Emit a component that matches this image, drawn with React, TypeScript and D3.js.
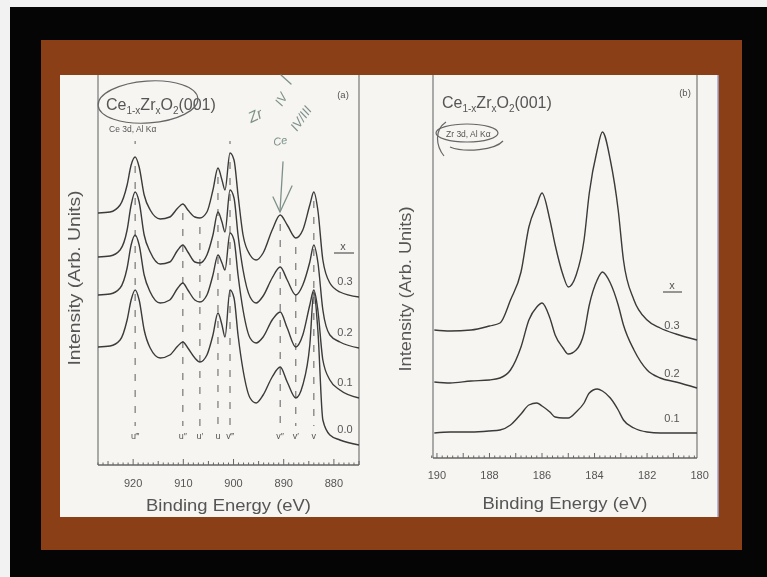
import * as d3 from 'd3';

// Ce 3d panel (a): shared energy grid (eV) and one intensity list per x
const ceEnergy = [927.0, 924.6, 922.6, 921.2, 920.4, 919.6, 918.8, 917.8, 916.6, 914.6, 912.7, 911.1, 910.1, 909.1, 907.7, 906.7, 905.3, 904.1, 903.1, 902.3, 901.7, 900.7, 899.9, 899.1, 898.1, 896.7, 895.5, 894.1, 892.3, 890.7, 889.3, 887.6, 886.2, 884.8, 884.0, 883.2, 882.2, 880.8, 878.8, 875.0];
const ce03 = [252, 253, 260, 280, 300, 308, 298, 270, 255, 246, 248, 257, 261, 255, 248, 247, 253, 275, 297, 285, 275, 312, 305, 270, 230, 210, 205, 212, 235, 250, 240, 227, 235, 260, 273, 255, 205, 182, 173, 168];
const ce02 = [208, 209, 215, 235, 260, 273, 263, 230, 213, 201, 203, 215, 220, 213, 203, 202, 210, 230, 253, 243, 233, 275, 267, 230, 195, 168, 162, 169, 187, 198, 185, 170, 180, 203, 220, 203, 155, 130, 123, 117];
const ce01 = [170, 171, 177, 197, 220, 230, 220, 190, 173, 162, 165, 177, 182, 175, 165, 163, 170, 190, 210, 202, 195, 232, 225, 190, 155, 127, 122, 128, 145, 153, 137, 118, 130, 160, 175, 155, 105, 85, 75, 67];
const ce00 = [118, 119, 125, 145, 165, 175, 165, 135, 117, 107, 110, 119, 123, 117, 107, 103, 110, 130, 152, 140, 128, 175, 167, 130, 95, 67, 62, 70, 88, 98, 83, 67, 80, 120, 173, 135, 45, 30, 25, 20];
const ceSeries = [ce03, ce02, ce01, ce00];
const ceLabels = ['0.3', '0.2', '0.1', '0.0'];
const ceTicks = [920, 910, 900, 890, 880];
const ceMarkers = [919.6, 910.1, 906.7, 903.1, 900.7, 890.7, 887.6, 884.0];
const ceMarkerNames = ['u‴', 'u″', 'u′', 'u', 'v‴', 'v″', 'v′', 'v'];

// Zr 3d panel (b)
const zrEnergy = [190.1, 189.5, 188.7, 188.0, 187.6, 187.2, 186.8, 186.5, 186.2, 186.0, 185.7, 185.5, 185.2, 185.0, 184.7, 184.4, 184.2, 183.9, 183.7, 183.4, 183.1, 182.9, 182.5, 182.0, 181.5, 180.9, 180.1];
const zr03 = [128, 127, 128, 132, 135, 158, 186, 231, 253, 265, 238, 213, 183, 171, 183, 218, 265, 308, 326, 298, 248, 198, 158, 138, 130, 124, 118];
const zr02 = [76, 75, 77, 78, 80, 88, 111, 138, 151, 155, 140, 123, 110, 104, 108, 125, 153, 178, 186, 175, 153, 133, 108, 88, 80, 76, 70];
const zr01 = [25, 26, 26, 27, 28, 33, 44, 53, 55, 52, 46, 41, 40, 40, 46, 55, 65, 69, 67, 60, 48, 38, 30, 26, 25, 25, 25];
const zrSeries = [zr03, zr02, zr01];
const zrLabels = ['0.3', '0.2', '0.1'];
const zrTicks = [190, 188, 186, 184, 182, 180];

const FONT = '"Liberation Sans", Arial, sans-serif';
const INK = '#3a3a3a';
const TXT = '#555';
const HAND = '#7d918a';

function Formula({ x, y }: { x: number; y: number }) {
  return (
    <text x={x} y={y} fontFamily={FONT} fontSize={16} fill={TXT}>
      Ce<tspan fontSize={10} dy={4}>1-x</tspan>
      <tspan dy={-4}>Zr</tspan>
      <tspan fontSize={10} dy={4}>x</tspan>
      <tspan dy={-4}>O</tspan>
      <tspan fontSize={10} dy={4}>2</tspan>
      <tspan dy={-4}>(001)</tspan>
    </text>
  );
}

export default function App() {
  // panel (a)
  const xa = d3.scaleLinear().domain([927, 875]).range([98, 359]);
  const ya = d3.scaleLinear().domain([0, 390]).range([465, 75]);
  const lineA = d3.line<number>()
    .x((_, i) => xa(ceEnergy[i]))
    .y(d => ya(d))
    .curve(d3.curveMonotoneX);
  const minorA = d3.range(875, 928, 1);

  // panel (b)
  const xb = d3.scaleLinear().domain([190.15, 180.1]).range([433, 697]);
  const yb = d3.scaleLinear().domain([0, 383]).range([458, 75]);
  const lineB = d3.line<number>()
    .x((_, i) => xb(zrEnergy[i]))
    .y(d => yb(d))
    .curve(d3.curveMonotoneX);
  const minorB = d3.range(0, 51).map(i => +(180.2 + i * 0.2).toFixed(1));

  const nearest = (e: number) => d3.leastIndex(ceEnergy, v => Math.abs(v - e)) ?? 0;

  return (
    <svg width={767} height={577} style={{ position: 'absolute', left: 0, top: 0 }}>
      <defs>
        <filter id="soft"><feGaussianBlur stdDeviation={0.45} /></filter>
      </defs>
      <rect width={767} height={577} fill="#f2f2f2" />
      <rect x={10} y={7} width={757} height={570} fill="#050505" />
      <rect x={41} y={40} width={701} height={510} fill="#8a3f17" />
      <rect x={60} y={75} width={658} height={442} fill="#f6f5f2" />
      <line x1={718} y1={75} x2={718} y2={517} stroke="#9ea3cf" strokeWidth={1.5} />

      <g filter="url(#soft)">
        {/* ---------- panel (a) ---------- */}
        <line x1={xa.range()[0]} x2={xa.range()[0]} y1={75} y2={ya(0)} stroke="#777" strokeWidth={1.2} />
        <line x1={xa.range()[1]} x2={xa.range()[1]} y1={75} y2={ya(0)} stroke="#777" strokeWidth={1.2} />
        <line x1={xa.range()[0]} x2={xa.range()[1]} y1={ya(0)} y2={ya(0)} stroke="#666" strokeWidth={1.4} />
        {minorA.map(t => (
          <line key={t} x1={xa(t)} x2={xa(t)} y1={ya(0)} y2={ya(0) - (t % 10 === 0 ? 6 : t % 5 === 0 ? 4 : 2.5)} stroke="#666" strokeWidth={1} />
        ))}
        {ceTicks.map(t => (
          <text key={t} x={xa(t)} y={487} textAnchor="middle" fontFamily={FONT} fontSize={11} fill={TXT}>{t}</text>
        ))}
        <text x={(xa.range()[0] + xa.range()[1]) / 2} y={511} textAnchor="middle" fontFamily={FONT} fontSize={17} fill={TXT} textLength={165} lengthAdjust="spacingAndGlyphs">Binding Energy (eV)</text>
        <text transform={`translate(80,278) rotate(-90)`} textAnchor="middle" fontFamily={FONT} fontSize={16} fill={TXT} textLength={175} lengthAdjust="spacingAndGlyphs">Intensity (Arb. Units)</text>

        {ceMarkers.map((m, k) => {
          const top = d3.min(ceSeries, s => ya(s[nearest(m)])) ?? 150;
          return (
            <g key={m}>
              <line x1={xa(m)} x2={xa(m)} y1={top + 9} y2={426} stroke="#777" strokeWidth={1.2} strokeDasharray="7,9" />
              {(k === 0 || k === 4) && <line x1={xa(m)} x2={xa(m)} y1={141} y2={144} stroke="#777" strokeWidth={1.2} />}
              <text x={xa(m)} y={439} textAnchor="middle" fontFamily={FONT} fontSize={9} fill={TXT}>{ceMarkerNames[k]}</text>
            </g>
          );
        })}

        {ceSeries.map((s, k) => (
          <path key={k} d={lineA(s) ?? ''} fill="none" stroke={INK} strokeWidth={1.4} />
        ))}
        <text x={343} y={250} textAnchor="middle" fontFamily={FONT} fontSize={11} fill={TXT}>x</text>
        <line x1={334} x2={354} y1={253} y2={253} stroke={TXT} strokeWidth={1.2} />
        {ceLabels.map((l, k) => (
          <text key={l} x={345} y={ya(ceSeries[k][ceSeries[k].length - 1]) - 12} textAnchor="middle" fontFamily={FONT} fontSize={11} fill={TXT}>{l}</text>
        ))}

        <Formula x={106} y={110} />
        <text x={109} y={132} fontFamily={FONT} fontSize={8.5} fill={TXT}>Ce 3d, Al Kα</text>
        <text x={343} y={98} textAnchor="middle" fontFamily={FONT} fontSize={9.5} fill={TXT}>(a)</text>
        <ellipse cx={148} cy={102} rx={50} ry={21} fill="none" stroke="#666" strokeWidth={1.2} transform="rotate(-4 148 102)" />

        {/* handwritten notes */}
        <g fill="none" stroke={HAND} strokeWidth={1.3} strokeLinecap="round">
          <path d="M281,75 L291,84" />
          <path d="M283,162 C282,178 281,195 280,211" />
          <path d="M273,197 L280,212 L292,186" />
        </g>
        <g fontFamily={FONT} fill={HAND} fontStyle="italic">
          <text transform="translate(251,123) rotate(-25)" fontSize={15}>Zr</text>
          <text transform="translate(282,107) rotate(-60)" fontSize={13}>IV</text>
          <text transform="translate(274,146) rotate(-10)" fontSize={11}>Ce</text>
          <text transform="translate(297,132) rotate(-55)" fontSize={13}>IV/III</text>
        </g>

        {/* ---------- panel (b) ---------- */}
        <line x1={xb.range()[0]} x2={xb.range()[0]} y1={75} y2={yb(0)} stroke="#777" strokeWidth={1.2} />
        <line x1={xb.range()[1]} x2={xb.range()[1]} y1={75} y2={yb(0)} stroke="#777" strokeWidth={1.2} />
        <line x1={xb.range()[0]} x2={xb.range()[1]} y1={yb(0)} y2={yb(0)} stroke="#666" strokeWidth={1.4} />
        {minorB.map(t => (
          <line key={t} x1={xb(t)} x2={xb(t)} y1={yb(0)} y2={yb(0) - (Math.abs(t - Math.round(t)) < 0.01 ? 5 : 2.5)} stroke="#666" strokeWidth={1} />
        ))}
        {zrTicks.map(t => (
          <text key={t} x={xb(t)} y={479} textAnchor="middle" fontFamily={FONT} fontSize={11} fill={TXT}>{t}</text>
        ))}
        <text x={(xb.range()[0] + xb.range()[1]) / 2} y={509} textAnchor="middle" fontFamily={FONT} fontSize={17} fill={TXT} textLength={165} lengthAdjust="spacingAndGlyphs">Binding Energy (eV)</text>
        <text transform={`translate(411,289) rotate(-90)`} textAnchor="middle" fontFamily={FONT} fontSize={16} fill={TXT} textLength={165} lengthAdjust="spacingAndGlyphs">Intensity (Arb. Units)</text>

        {zrSeries.map((s, k) => (
          <path key={k} d={lineB(s) ?? ''} fill="none" stroke={INK} strokeWidth={1.4} />
        ))}
        <text x={672} y={289} textAnchor="middle" fontFamily={FONT} fontSize={11} fill={TXT}>x</text>
        <line x1={663} x2={682} y1={292} y2={292} stroke={TXT} strokeWidth={1.2} />
        {zrLabels.map((l, k) => (
          <text key={l} x={672} y={yb(zrSeries[k][zrSeries[k].length - 1]) - 11} textAnchor="middle" fontFamily={FONT} fontSize={11} fill={TXT}>{l}</text>
        ))}

        <Formula x={442} y={108} />
        <text x={446} y={137} fontFamily={FONT} fontSize={8.5} fill={TXT}>Zr 3d, Al Kα</text>
        <text x={685} y={96} textAnchor="middle" fontFamily={FONT} fontSize={9.5} fill={TXT}>(b)</text>
        <ellipse cx={467} cy={133} rx={31} ry={9} fill="none" stroke="#666" strokeWidth={1.2} />
        <path d="M446,122 C434,130 436,146 444,156 M450,147 C465,153 495,150 503,141" fill="none" stroke="#666" strokeWidth={1.2} />
      </g>
    </svg>
  );
}
